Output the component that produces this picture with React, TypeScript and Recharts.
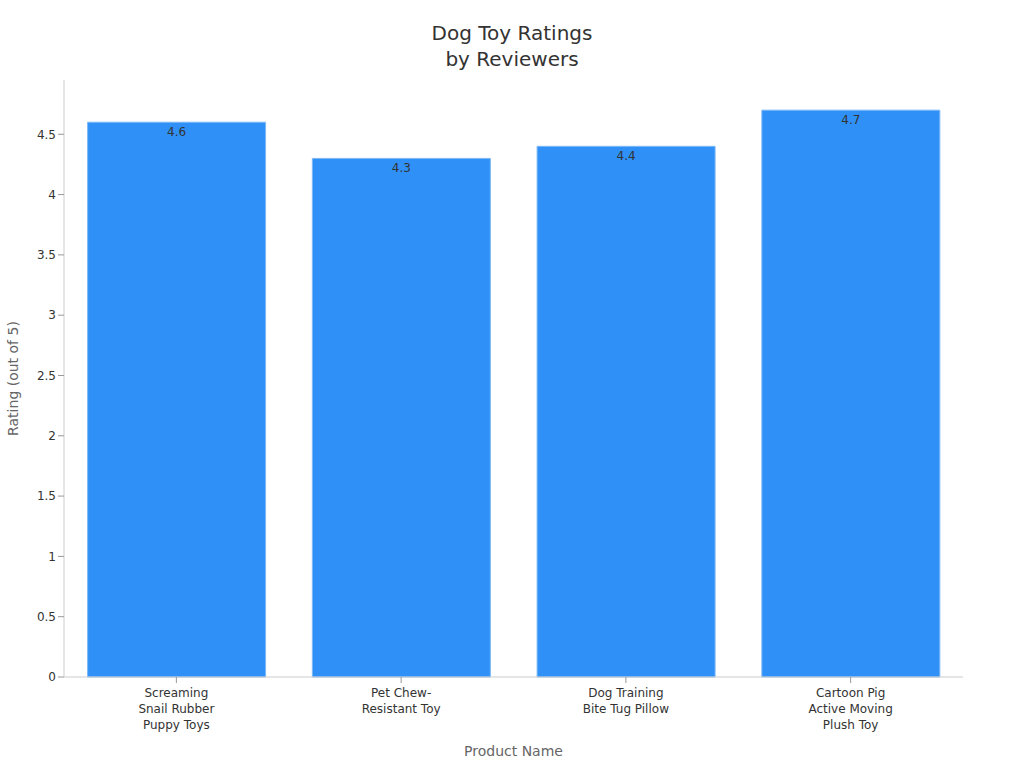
import React from "react";
import { BarChart, Bar, XAxis, YAxis, LabelList } from "recharts";

const categories = [
  "Screaming Snail Rubber Puppy Toys",
  "Pet Chew-Resistant Toy",
  "Dog Training Bite Tug Pillow",
  "Cartoon Pig Active Moving Plush Toy",
];
const tickLines: string[][] = [
  ["Screaming", "Snail Rubber", "Puppy Toys"],
  ["Pet Chew-", "Resistant Toy"],
  ["Dog Training", "Bite Tug Pillow"],
  ["Cartoon Pig", "Active Moving", "Plush Toy"],
];
const ratings = [4.6, 4.3, 4.4, 4.7];
const yTicks = [0, 0.5, 1, 1.5, 2, 2.5, 3, 3.5, 4, 4.5];

const data = categories.map((c, i) => ({ name: c, rating: ratings[i], idx: i }));

const FONT = "'DejaVu Sans', sans-serif";

const XTick = (props: any) => {
  const { x, y, payload } = props;
  const idx = categories.indexOf(payload.value);
  const lines = idx >= 0 ? tickLines[idx] : [String(payload.value)];
  return (
    <g transform={`translate(${x},${y})`}>
      {lines.map((l, i) => (
        <text
          key={i}
          x={0}
          y={12 + i * 16}
          textAnchor="middle"
          fill="#333"
          fontSize={12}
          fontFamily={FONT}
        >
          {l}
        </text>
      ))}
    </g>
  );
};

export default function App() {
  return (
    <div style={{ position: "absolute", left: 0, top: 0, width: 1024, height: 768, background: "#fff" }}>
      <div
        style={{
          position: "absolute",
          left: 0,
          top: 20,
          width: 1024,
          textAlign: "center",
          fontFamily: FONT,
          fontSize: 20,
          lineHeight: "26px",
          color: "#333",
        }}
      >
        Dog Toy Ratings
        <br />
        by Reviewers
      </div>
      <BarChart
        width={1024}
        height={768}
        data={data}
        margin={{ top: 80, right: 61, bottom: 0, left: 0 }}
        barCategoryGap="10.5%"
      >
        <XAxis
          dataKey="name"
          height={91}
          tick={<XTick />}
          tickLine={{ stroke: "#999" }}
          axisLine={{ stroke: "#ccc" }}
          tickSize={6}
          interval={0}
          label={{
            value: "Product Name",
            position: "insideBottom",
            offset: 12,
            fill: "#666",
            fontSize: 14,
            fontFamily: FONT,
          }}
        />
        <YAxis
          width={64}
          domain={[0, 4.95]}
          ticks={yTicks}
          tick={{ fill: "#333", fontSize: 12, fontFamily: FONT }}
          tickLine={{ stroke: "#999" }}
          axisLine={{ stroke: "#ccc" }}
          tickSize={6}
          label={{
            value: "Rating (out of 5)",
            angle: -90,
            position: "insideLeft",
            offset: 13,
            style: { textAnchor: "middle" },
            fill: "#666",
            fontSize: 14,
            fontFamily: FONT,
          }}
        />
        <Bar dataKey="rating" fill="#2f91f7" stroke="#7db9f7" strokeWidth={1} isAnimationActive={false}>
          <LabelList
            dataKey="rating"
            position="insideTop"
            offset={5}
            fill="#333"
            fontSize={12}
            fontFamily={FONT}
          />
        </Bar>
      </BarChart>
    </div>
  );
}
